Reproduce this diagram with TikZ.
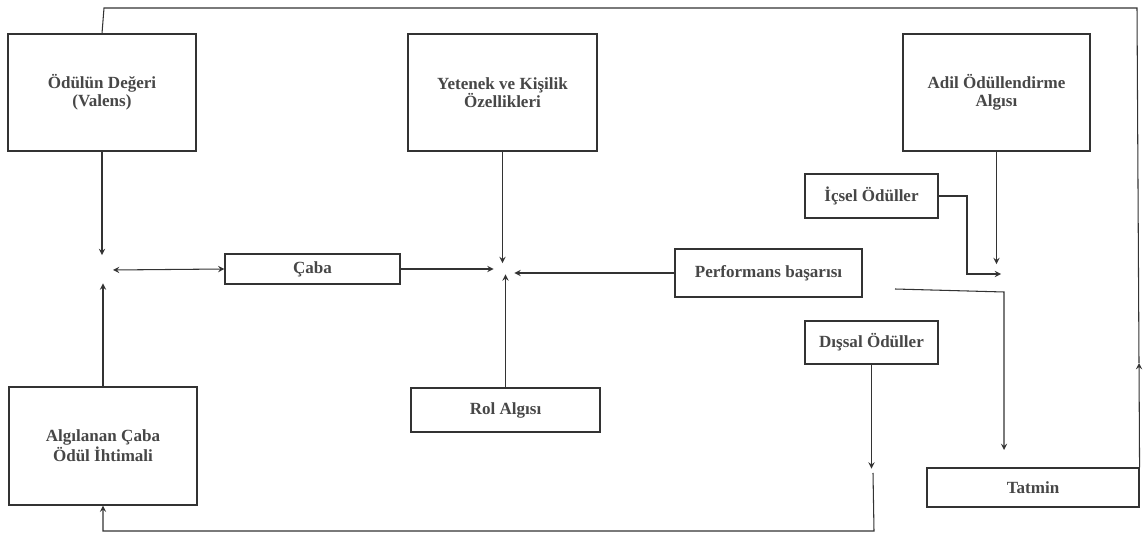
\documentclass[tikz,border=0pt]{standalone}
\usepackage{fontspec}
\setmainfont{Liberation Serif}
\begin{document}
\begin{tikzpicture}[>=stealth,
		kutu/.style={draw=black!80,line width=0.65pt,minimum width=#1,align=center,font=\fontsize{9.7}{10.4}\selectfont\bfseries,text=black!72},
		kutu/.default=3.76cm,
		baglanti/.style={draw=black!80,line width=0.6pt}]
				\useasboundingbox (0,0) rectangle (22.94,10.68);
				% ust sira
				\node[kutu,minimum height=2.34cm] (odul) at (2.04,8.83) {Ödülün Değeri\\(Valens)};
				\node[kutu=3.78cm,minimum height=2.34cm] (yetenek) at (10.05,8.83) {Yetenek ve Kişilik\\Özellikleri};
				\node[kutu=3.74cm,minimum height=2.34cm] (adil) at (19.93,8.83) {Adil Ödüllendirme\\Algısı};
				% orta sira
				\node[kutu=3.5cm,minimum height=0.6cm] (caba) at (6.25,5.30) {Çaba};
				\node[kutu=3.74cm,minimum height=0.96cm] (perf) at (15.37,5.22) {Performans başarısı};
				\node[kutu=2.66cm,minimum height=0.88cm] (icsel) at (17.43,6.76) {İçsel Ödüller};
				\node[kutu=2.66cm,minimum height=0.86cm] (dissal) at (17.43,3.83) {Dışsal Ödüller};
				% alt sira
				\node[kutu,minimum height=2.36cm] (algi) at (2.06,1.76) {Algılanan Çaba\\Ödül İhtimali};
				\node[kutu=3.78cm,minimum height=0.88cm] (rol) at (10.11,2.48) {Rol Algısı};
				\node[kutu=4.24cm,minimum height=0.78cm] (tatmin) at (20.66,0.93) {Tatmin};
				% bos noktalar
				\coordinate (j1) at (2.08,5.28);
				\coordinate (j2) at (10.08,5.26);
				\coordinate (j3) at (19.96,5.28);
				\coordinate (p1) at (17.9,4.90);
				\coordinate (d1) at (17.46,1.22);
				\coordinate (t1) at (22.78,3.42);
				% sol kavsak
				\draw[baglanti,->] (odul.south) -- ++(0,-2.07);
				\draw[baglanti,->] (algi.north) -- ++(0,2.06);
				\draw[baglanti,<->] (j1)++(0.18,0) -- (caba.west);
				% orta kavsak
				\draw[baglanti,->] (yetenek.south) -- ++(0,-2.23);
				\draw[baglanti,->] (caba.east) -- ++(1.86,0);
				\draw[baglanti,->] (perf.west) -- ++(-3.2,0);
				\draw[baglanti,->] (rol.north) -- ++(0,2.26);
				% sag taraf
				\draw[baglanti,->] (adil.south) -- ++(0,-2.25);
				\draw[baglanti,->] (icsel.east) -| (19.34,5.20) -- (20.02,5.20);
				\draw[baglanti,->] (p1) -- (20.08,4.84) -- (20.08,1.68);
				\draw[baglanti,->] (dissal.south) -- ++(0,-2.08);
				\draw[baglanti,->] (d1) -- (17.48,0.06) -- (2.06,0.06) -- (algi.south);
				\draw[baglanti,->] (tatmin.north east) -- (t1);
				\draw[baglanti] (t1) -- (22.74,10.52) -- (2.08,10.52) -- (odul.north);
			\end{tikzpicture}
\end{document}
